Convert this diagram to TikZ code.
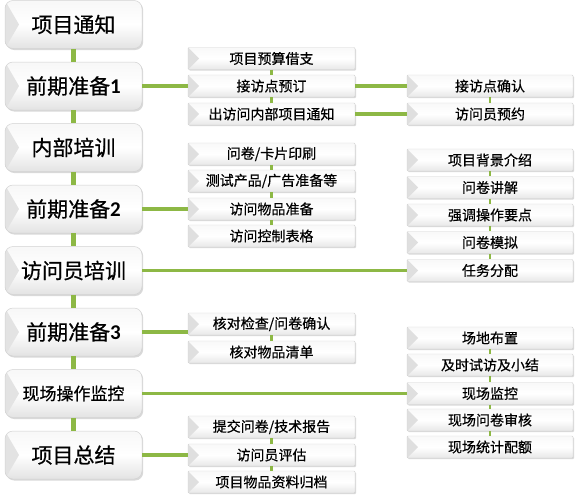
\documentclass[tikz,border=0pt]{standalone}
\usepackage{fontspec}
\setmainfont{Noto Sans CJK SC}
\newfontfamily\cjk{Noto Sans CJK SC}[FakeBold=0.6]
\newfontfamily\numf{Carlito}
\usetikzlibrary{shadows}
\definecolor{lgreen}{HTML}{8DB845}
\begin{document}
\begin{tikzpicture}[x=1pt,y=-1pt,
  bigbox/.style={draw=gray!35, line width=0.5pt, rounded corners=8pt,
    top color=gray!6, bottom color=gray!22, middle color=white,
    minimum width=137pt, minimum height=48pt, inner sep=0pt,
    font=\cjk\fontsize{21}{21}\selectfont,
    drop shadow={shadow xshift=1.2pt, shadow yshift=-1.5pt, opacity=0.3},
    path picture={\fill[gray!22, sharp corners] (path picture bounding box.north west) -- ([xshift=14pt]path picture bounding box.west) -- (path picture bounding box.south west) -- cycle;}},
  smallbox/.style={draw=gray!35, line width=0.4pt, rounded corners=1pt,
    top color=gray!5, bottom color=gray!18, middle color=white,
    minimum width=167pt, minimum height=22pt, inner sep=0pt,
    font=\cjk\fontsize{14}{14}\selectfont,
    drop shadow={shadow xshift=1pt, shadow yshift=-1.2pt, opacity=0.3},
    path picture={\fill[gray!25, sharp corners] (path picture bounding box.north west) -- ([xshift=11pt]path picture bounding box.west) -- (path picture bounding box.south west) -- cycle;}},
  gline/.style={draw=lgreen, line width=4.5pt},
  hline/.style={draw=lgreen, line width=3.5pt},
  sline/.style={draw=lgreen, line width=2.8pt}
]
\useasboundingbox (0,0) rectangle (578,498);
% left column
\node[bigbox] (L1) at (73.5,24.5) {项目通知};
\node[bigbox] (L2) at (73.5,86) {前期准备{\numf\bfseries 1}};
\node[bigbox] (L3) at (73.5,147.5) {内部培训};
\node[bigbox] (L4) at (73.5,209) {前期准备{\numf\bfseries 2}};
\node[bigbox] (L5) at (73.5,270.5) {访问员培训};
\node[bigbox] (L6) at (73.5,332) {前期准备{\numf\bfseries 3}};
\node[bigbox, font=\cjk\fontsize{17}{17}\selectfont] (L7) at (73.5,393.5) {现场操作监控};
\node[bigbox] (L8) at (73.5,455) {项目总结};
% middle column
\node[smallbox] (M11) at (271.5,58.5) {项目预算借支};
\node[smallbox] (M12) at (271.5,86) {接访点预订};
\node[smallbox] (M13) at (271.5,114) {出访问内部项目通知};
\node[smallbox] (M21) at (271.5,154) {问卷/卡片印刷};
\node[smallbox] (M22) at (271.5,181) {测试产品/广告准备等};
\node[smallbox] (M23) at (271.5,209) {访问物品准备};
\node[smallbox] (M24) at (271.5,236) {访问控制表格};
\node[smallbox] (M31) at (271.5,324) {核对检查/问卷确认};
\node[smallbox] (M32) at (271.5,352) {核对物品清单};
\node[smallbox] (M41) at (271.5,427) {提交问卷/技术报告};
\node[smallbox] (M42) at (271.5,455) {访问员评估};
\node[smallbox] (M43) at (271.5,482) {项目物品资料归档};
% right column
\node[smallbox, minimum width=166pt] (R11) at (490,86) {接访点确认};
\node[smallbox, minimum width=166pt] (R12) at (490,114) {访问员预约};
\node[smallbox, minimum width=166pt] (R21) at (490,160) {项目背景介绍};
\node[smallbox, minimum width=166pt] (R22) at (490,187.5) {问卷讲解};
\node[smallbox, minimum width=166pt] (R23) at (490,215) {强调操作要点};
\node[smallbox, minimum width=166pt] (R24) at (490,242.5) {问卷模拟};
\node[smallbox, minimum width=166pt] (R25) at (490,270.5) {任务分配};
\node[smallbox, minimum width=166pt] (R31) at (490,338) {场地布置};
\node[smallbox, minimum width=166pt] (R32) at (490,365) {及时试访及小结};
\node[smallbox, minimum width=166pt] (R33) at (490,393.5) {现场监控};
\node[smallbox, minimum width=166pt] (R34) at (490,420) {现场问卷审核};
\node[smallbox, minimum width=166pt] (R35) at (490,447) {现场统计配额};
% left vertical connectors
\foreach \a/\b in {L1/L2,L2/L3,L3/L4,L4/L5,L5/L6,L6/L7,L7/L8}
  \draw[gline] (\a.south) -- (\b.north);
% horizontal connectors
\draw[hline] (L2.east) -- (M12.west);
\draw[hline] (M12.east) -- (R11.west);
\draw[hline] (M13.east) -- (R12.west);
\draw[hline] (L4.east) -- (M23.west);
\draw[hline] (L5.east) -- (R25.west);
\draw[hline] (L6.east) -- (L6.east -| M31.west);
\draw[hline] (L7.east) -- (R33.west);
\draw[hline] (L8.east) -- (M42.west);
% small vertical connectors
\foreach \a/\b in {M11/M12,M12/M13,M21/M22,M22/M23,M23/M24,M31/M32,M41/M42,M42/M43,R11/R12,R21/R22,R22/R23,R23/R24,R24/R25,R31/R32,R32/R33,R33/R34,R34/R35}
  \draw[sline] (\a.south) -- (\b.north);
\end{tikzpicture}
\end{document}
